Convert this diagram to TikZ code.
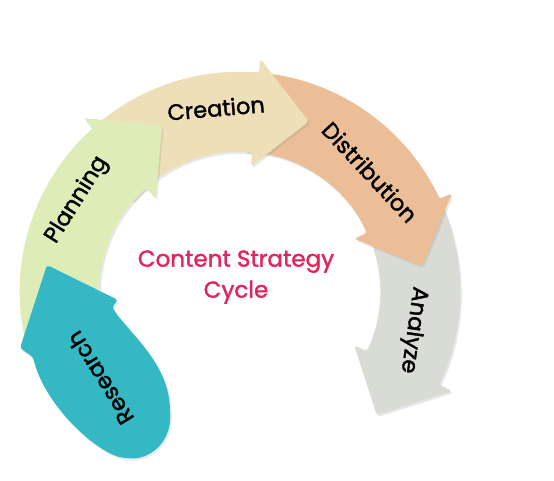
\documentclass[tikz,border=0pt]{standalone}
\usepackage{fontspec}
\setmainfont{Poppins}
\newfontfamily\stepfont{Poppins}[FakeBold=1.6]
\usetikzlibrary{shadows}

\definecolor{researchcol}{HTML}{33B8C4}
\definecolor{planningcol}{HTML}{DEEDB7}
\definecolor{creationcol}{HTML}{EDDFB8}
\definecolor{distribcol}{HTML}{EBBE98}
\definecolor{analyzecol}{HTML}{D9DCD5}
\definecolor{titlecol}{HTML}{E0245E}

% curved band with a head: colour, tail angle, head angle
\newcommand{\cyclearrow}[3]{%
  \fill[#1, band] (#2:220pt) arc[start angle=#2, end angle=#3, radius=220pt]
    -- (#3:234pt) -- ({#3-17}:184pt) -- (#3:126pt) -- (#3:140pt)
    arc[start angle=#3, end angle=#2, radius=140pt] -- cycle;}

\begin{document}
\begin{tikzpicture}[x=1pt, y=1pt,
    band/.style={rounded corners=3pt, drop shadow={opacity=0.18, shadow xshift=1.5pt, shadow yshift=-2pt}},
    steplabel/.style={font=\stepfont\fontsize{22.5}{26}\selectfont, text=black},
    titlelabel/.style={font=\stepfont\fontsize{23}{31}\selectfont, text=titlecol, align=center}]
        \useasboundingbox (-240,-188) rectangle (314,292);
        % bands, drawn so that each head lies over the next tail
        \cyclearrow{analyzecol}{30}{-25}
        \cyclearrow{distribcol}{88}{25}
        \cyclearrow{creationcol}{140}{85}
        \cyclearrow{planningcol}{195}{132}
        \fill[researchcol, band] (-193,27) -- (-122,-8) -- (-128,-15)
            .. controls (-112,-40) and (-72,-70) .. (-70,-118)
            .. controls (-68,-152) and (-92,-168) .. (-113,-166)
            .. controls (-140,-164) and (-195,-115) .. (-207,-65)
            -- (-220,-56) -- cycle;
        \node[steplabel, rotate=122] (research) at (-140,-86) {Research};
        \node[steplabel, rotate=58] (planning) at (-163,92) {Planning};
        \node[steplabel, rotate=5] (creation) at (-24,184) {Creation};
        \node[steplabel, rotate=-47] (distribution) at (130,120) {Distribution};
        \node[steplabel, rotate=-98] (analyze) at (173,-38) {Analyze};
        \node[titlelabel] (title) at (-4,15) {Content Strategy\\Cycle};
    \end{tikzpicture}
\end{document}
